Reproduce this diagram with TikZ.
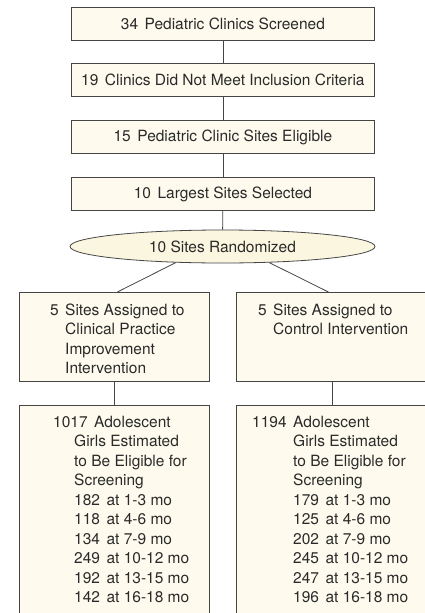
\documentclass[tikz,border=0pt]{standalone}
\usepackage{fontspec}
\setmainfont{TeX Gyre Heros}
\usepackage{tikz}
\usetikzlibrary{shapes.geometric}
\definecolor{BOXcolor}{HTML}{FEFBEE}
\definecolor{RANDcolor}{HTML}{FBF6E0}
\definecolor{LINEcolor}{HTML}{454545}
\definecolor{TEXTcolor}{HTML}{2A2A2A}
\newcommand{\ngap}{\hspace{0.42em}}

\begin{document}
\begin{tikzpicture}[x=1pt, y=-1pt]
    \tikzset{%
        flowbox/.style={draw=LINEcolor, fill=BOXcolor, line width=0.8pt, anchor=north west, inner sep=0pt},
        stepbox/.style={flowbox, minimum width=303pt, minimum height=33pt, text=TEXTcolor, font=\fontsize{15.5pt}{19.5pt}\selectfont},
        armbox/.style={flowbox, minimum height=89pt},
        listbox/.style={flowbox, minimum height=230pt},
        boxtext/.style={anchor=north west, inner sep=0pt, align=left, text=TEXTcolor, font=\fontsize{15.5pt}{19.5pt}\selectfont},
        link/.style={draw=LINEcolor, line width=0.8pt}
    }

    \useasboundingbox (0, 0) rectangle (425, 613);
    \clip (0, 0) rectangle (425, 613);

    % screening steps
    \node [stepbox] (screen) at (71, 7) {34\ngap Pediatric Clinics Screened};
    \node [stepbox] (exclude) at (71, 63) {19\ngap Clinics Did Not Meet Inclusion Criteria};
    \node [stepbox] (eligible) at (71, 120) {15\ngap Pediatric Clinic Sites Eligible};
    \node [stepbox] (selected) at (71, 177) {10\ngap Largest Sites Selected};
    \node [draw=LINEcolor, fill=RANDcolor, line width=0.8pt, ellipse, inner sep=0pt,
        minimum width=305pt, minimum height=33pt, text=TEXTcolor,
        font=\fontsize{15.5pt}{19.5pt}\selectfont] (rand) at (222.5, 246.5) {10 Sites Randomized};

    % study arms
    \node [armbox, minimum width=190pt] (armA) at (19, 292) {};
    \node [armbox, minimum width=192pt] (armB) at (236, 292) {};
    \node [boxtext] (armAtext) at (65, 303.5) {\llap{5\ngap}Sites Assigned to\\Clinical Practice\\Improvement\\Intervention};
    \node [boxtext] (armBtext) at (273, 303.5) {\llap{5\ngap}Sites Assigned to\\Control Intervention};

    % eligible girls
    \node [listbox, minimum width=190pt] (listA) at (19, 405) {};
    \node [listbox, minimum width=192pt] (listB) at (236, 405) {};
    \node [boxtext] (listAtext) at (74, 415.8) {\hspace*{-21pt}1017\ngap Adolescent\\Girls Estimated\\to Be Eligible for\\Screening\\
        182\ngap at 1-3 mo\\118\ngap at 4-6 mo\\134\ngap at 7-9 mo\\249\ngap at 10-12 mo\\192\ngap at 13-15 mo\\142\ngap at 16-18 mo};
    \node [boxtext] (listBtext) at (293, 415.8) {\hspace*{-41pt}1194\ngap Adolescent\\Girls Estimated\\to Be Eligible for\\Screening\\
        179\ngap at 1-3 mo\\125\ngap at 4-6 mo\\202\ngap at 7-9 mo\\245\ngap at 10-12 mo\\247\ngap at 13-15 mo\\196\ngap at 16-18 mo};

    % connectors
    \draw [link] (screen) -- (exclude);
    \draw [link] (exclude) -- (eligible);
    \draw [link] (eligible) -- (selected);
    \draw [link] (selected) -- (rand);
    \draw [link] (rand.199) -- ([xshift=3pt]armA.north);
    \draw [link] (rand.341) -- ([xshift=-4pt]armB.north);
    \draw [link] (armA) -- (listA);
    \draw [link] (armB) -- (listB);
\end{tikzpicture}
\end{document}
